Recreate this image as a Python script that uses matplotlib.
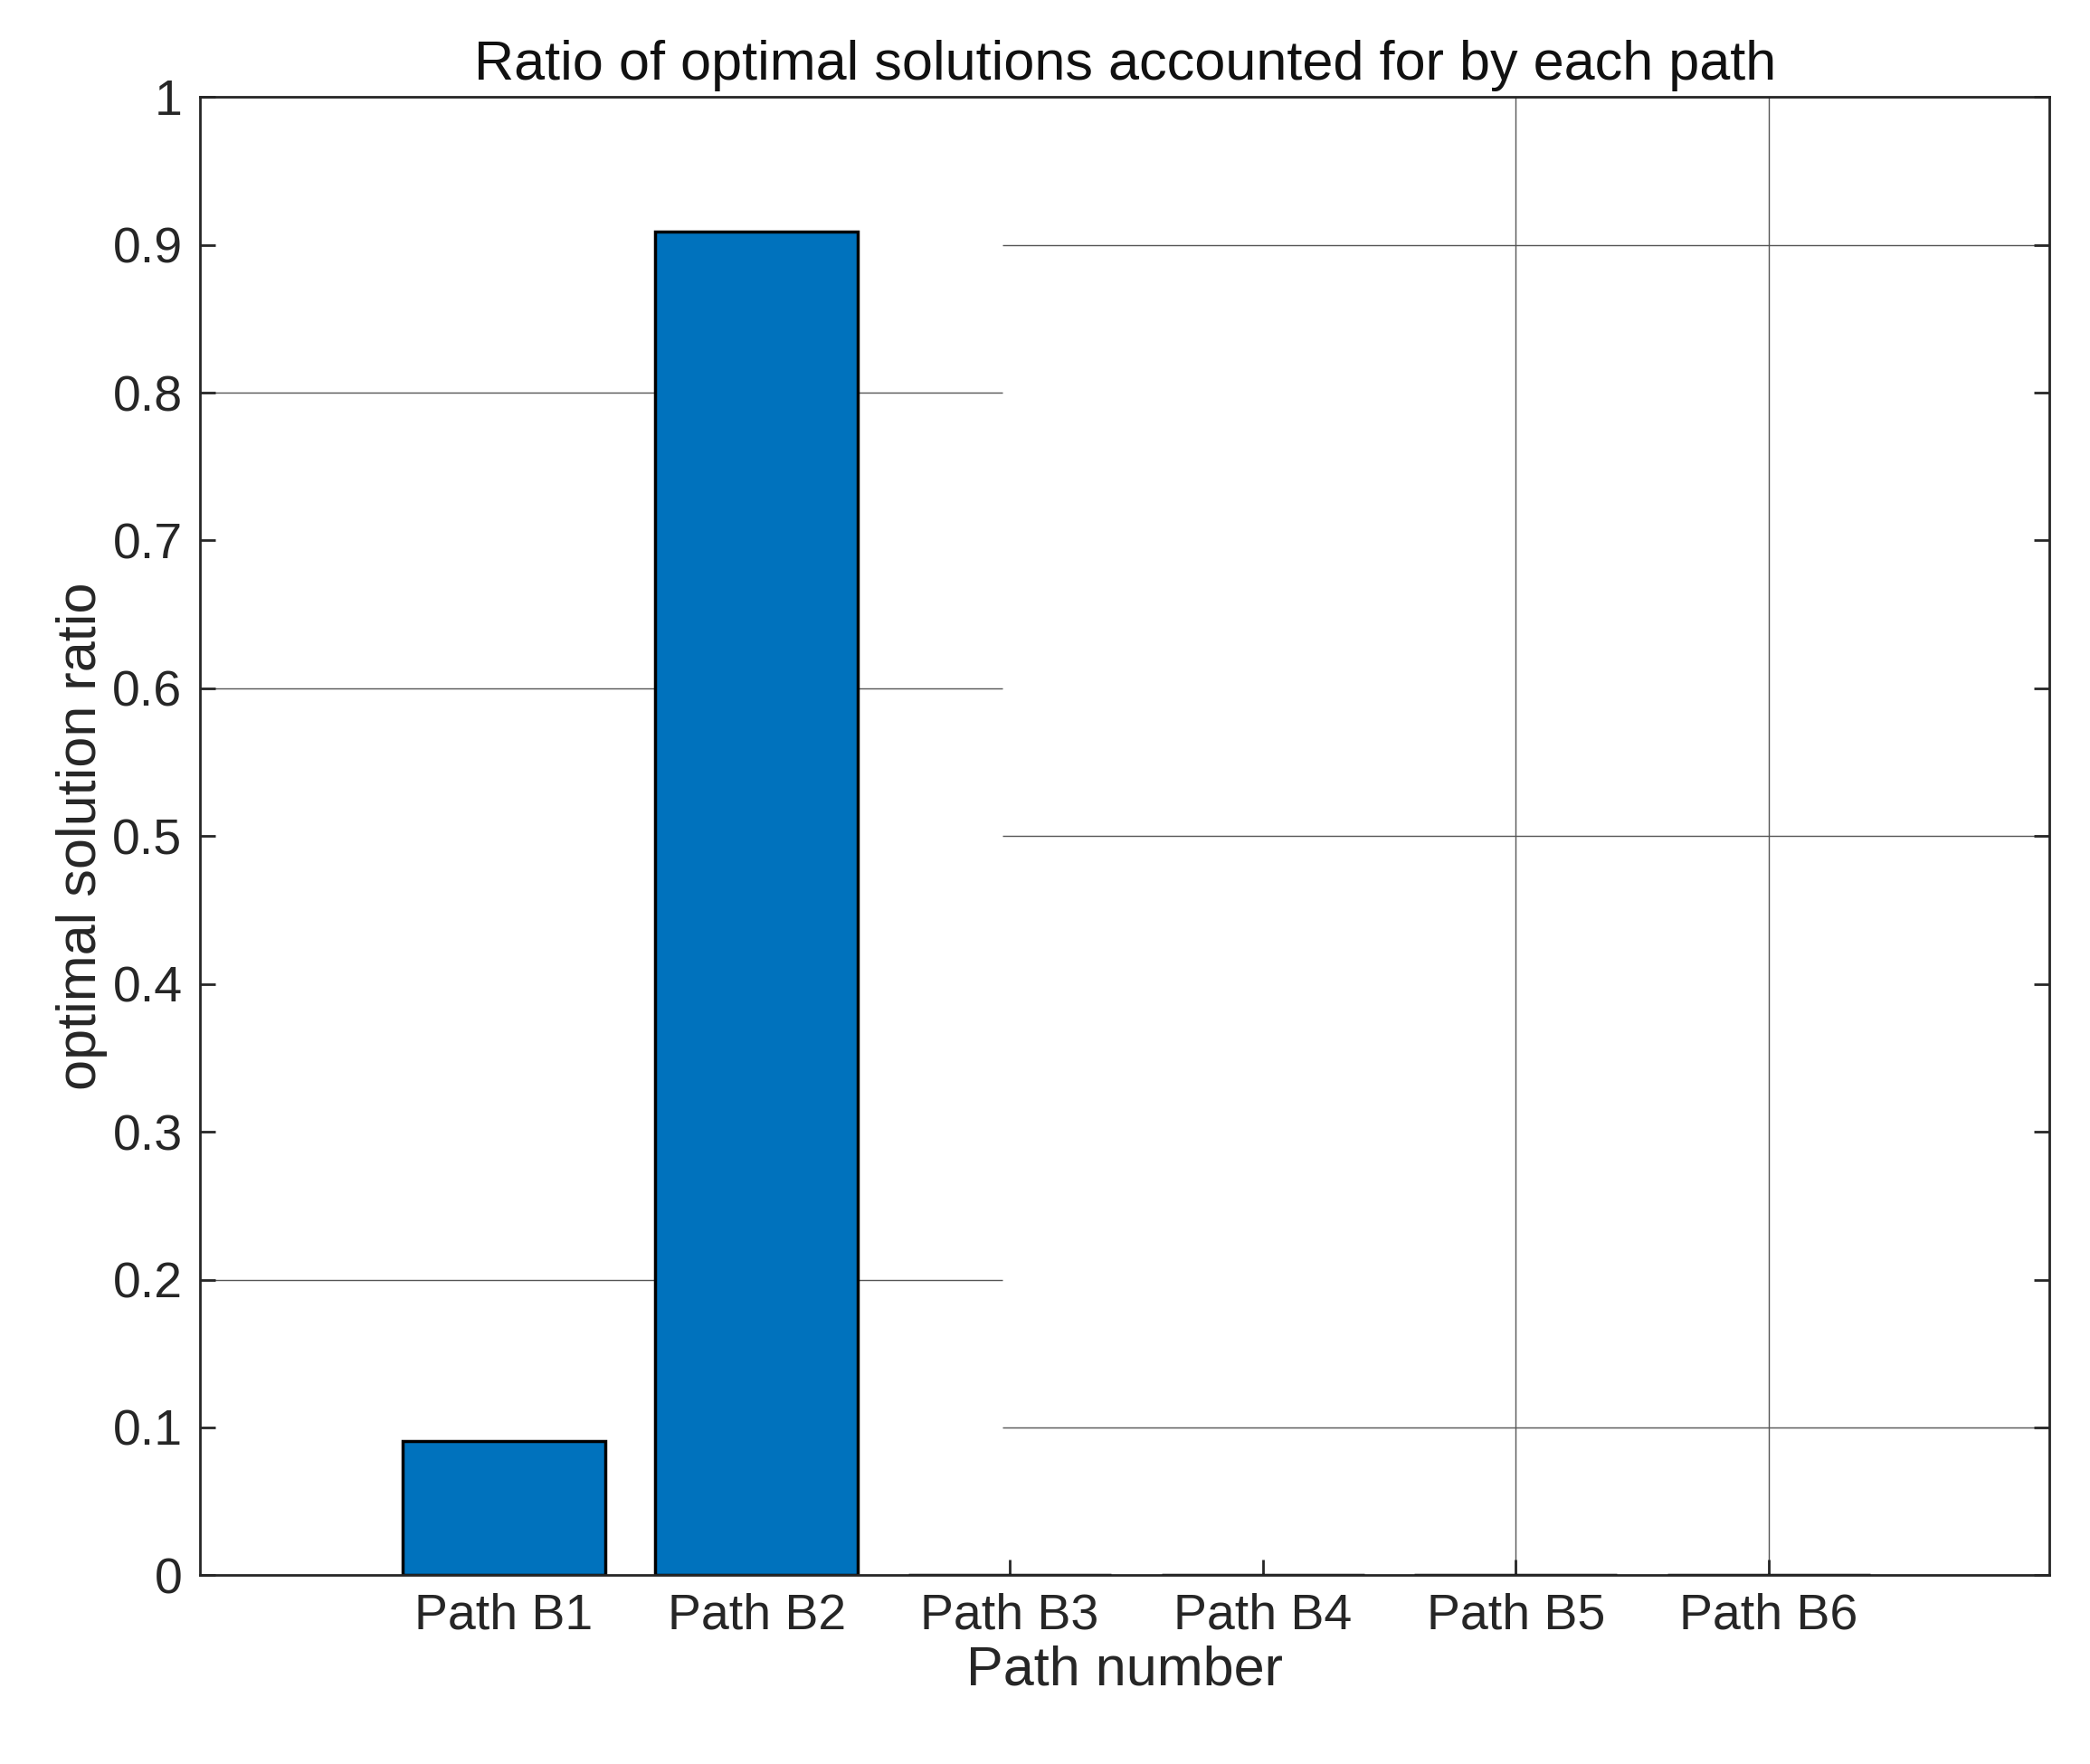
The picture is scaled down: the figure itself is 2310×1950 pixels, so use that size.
import matplotlib.pyplot as plt

plt.rcParams['font.family'] = ['Liberation Sans', 'DejaVu Sans']

paths = ['Path B1', 'Path B2', 'Path B3', 'Path B4', 'Path B5', 'Path B6']
ratios = [0.0909, 0.9091, 0, 0, 0, 0]
yticks = [0, 0.1, 0.2, 0.3, 0.4, 0.5, 0.6, 0.7, 0.8, 0.9, 1]
ytick_labels = ['0', '0.1', '0.2', '0.3', '0.4', '0.5', '0.6', '0.7', '0.8', '0.9', '1']
# grid pieces as they appear in the picture
left_grid = [0.2, 0.6, 0.8]
right_grid = [0.1, 0.5, 0.9]
vert_grid = [5, 6]

fig = plt.figure(figsize=(23.1, 19.5), dpi=100)
ax = fig.add_axes([0.0957, 0.107, 0.885, 0.838])

xpos = list(range(1, len(paths) + 1))
xl = (-0.2, 7.11)
ax.hlines(left_grid, xl[0], 2.97, colors='#555555', lw=1.0, zorder=0)
ax.hlines(right_grid, 2.97, xl[1], colors='#555555', lw=1.0, zorder=0)
ax.vlines(vert_grid, 0, 1, colors='#555555', lw=1.0, zorder=0)

ax.bar(xpos, ratios, width=0.8, color='#0072BD', edgecolor='black', linewidth=2.5, zorder=2)

ax.set_xlim(*xl)
ax.set_ylim(0, 1)
ax.set_xticks(xpos)
ax.set_xticklabels(paths)
ax.set_yticks(yticks)
ax.set_yticklabels(ytick_labels)
ax.tick_params(direction='in', length=12, width=2, labelsize=40, right=True, colors='#262626', pad=14)
for s in ax.spines.values():
    s.set_linewidth(2)
    s.set_color('#262626')

ax.set_xlabel('Path number', fontsize=44, color='#262626')
ax.set_ylabel('optimal solution ratio', fontsize=44, color='#262626')
ax.set_title('Ratio of optimal solutions accounted for by each path', fontsize=44, color='#111111', pad=14)

fig.savefig('out.png')
